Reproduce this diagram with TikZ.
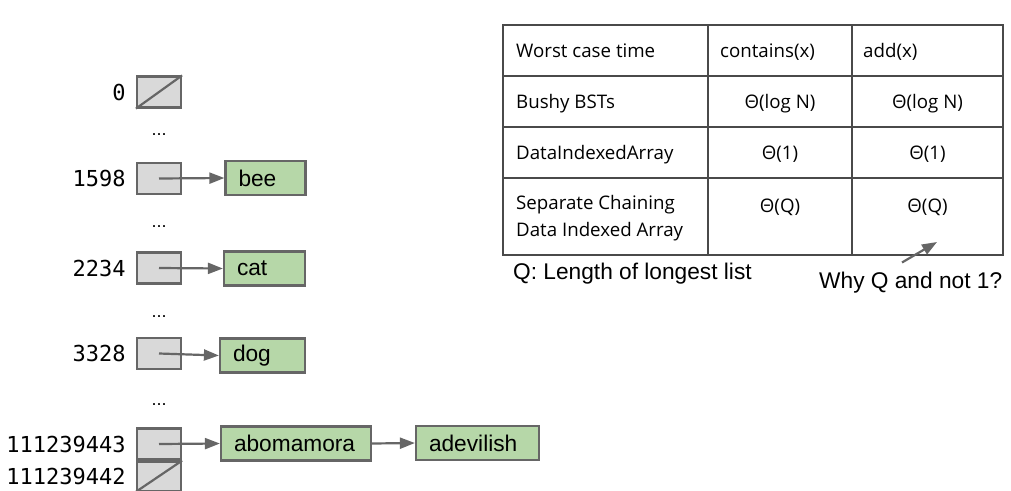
\documentclass[tikz,border=0pt]{standalone}
\usepackage{fontspec}
\setmainfont{Open Sans}
\newfontfamily\arialfont{Liberation Sans}
\newfontfamily\codefont{DejaVu Sans Mono}
\usetikzlibrary{arrows.meta,positioning}
\definecolor{slotgray}{HTML}{D9D9D9}
\definecolor{itemgreen}{HTML}{B6D7A8}
\definecolor{edgegray}{HTML}{666666}
\definecolor{gridgray}{HTML}{4A4A4A}

\begin{document}
\begin{tikzpicture}[x=1pt,y=-1pt,
  slot/.style={draw=edgegray,fill=slotgray,line width=2.2pt,minimum width=44pt,minimum height=31pt,inner sep=0pt},
  item/.style={draw=edgegray,fill=itemgreen,line width=2.2pt,minimum height=34pt,inner ysep=0pt,inner xsep=13pt,
    align=left,font=\arialfont\fontsize{22.7}{26}\selectfont},
  idx/.style={font=\codefont\fontsize{22}{26}\selectfont,inner sep=0pt},
  gap/.style={font=\arialfont\fontsize{18}{20}\selectfont,inner sep=0pt,anchor=base},
  link/.style={draw=edgegray,line width=2.2pt,-{Triangle[length=15pt,width=11pt]}},
  cell/.style={font=\fontsize{18.7}{27}\selectfont,inner sep=0pt},
  note/.style={font=\arialfont\fontsize{22.7}{26}\selectfont,inner sep=0pt,anchor=base west}]
  \useasboundingbox (0,0) rectangle (1011,490);
  \node[slot] (s0) at (159,92) {};
  \node[slot] (s1598) at (159,178.5) {};
  \node[slot] (s2234) at (159,268) {};
  \node[slot] (s3328) at (159,353.5) {};
  \node[slot] (s43) at (159,444) {};
  \node[slot,minimum height=29pt,below=0pt of s43] (s42) {};
  \draw[draw=edgegray,line width=2.2pt] (s0.south west) -- (s0.north east);
  \draw[draw=edgegray,line width=2.2pt] (s42.south west) -- (s42.north east);
  \node[idx,left=10pt of s0] (i0) {0};
  \node[idx,left=10pt of s1598] (i1598) {1598};
  \node[idx,left=10pt of s2234] (i2234) {2234};
  \node[idx,left=10pt of s3328] (i3328) {3328};
  \node[idx,left=10pt of s43] (i43) {111239443};
  \node[idx,left=10pt of s42] (i42) {111239442};
  \node[gap] (d1) at (159,135.5) {...};
  \node[gap] (d2) at (159,227) {...};
  \node[gap] (d3) at (159,317) {...};
  \node[gap] (d4) at (159,405) {...};
  \node[item,text width=54pt] (bee) at (265.5,178) {bee};
  \node[item,text width=55pt] (cat) at (264.5,268.5) {cat};
  \node[item,text width=59pt] (dog) at (262.5,355.5) {dog};
  \node[item,text width=124pt] (abo) at (296,443.5) {abomamora};
  \node[item,text width=97pt] (adev) at (477.5,443) {adevilish};
  \draw[link] (s1598.center) -- (bee.west);
  \draw[link] (s2234.center) -- (cat.west);
  \draw[link] (s3328.center) -- (dog.west);
  \draw[link] (s43.center) -- (abo.west);
  \draw[link] (abo.east) -- (adev.west);
  \draw[gridgray,line width=1.4pt] (503,25) rectangle (1003,255)
    (708,25) -- (708,255) (852,25) -- (852,255)
    (503,76) -- (1003,76) (503,127) -- (1003,127) (503,178) -- (1003,178);
  \node[cell,anchor=base west] (h1) at (516,57) {Worst case time};
  \node[cell,anchor=base west] (h2) at (720,57) {contains(x)};
  \node[cell,anchor=base west] (h3) at (863,57) {add(x)};
  \node[cell,anchor=base west] (r1) at (516,108) {Bushy BSTs};
  \node[cell,anchor=base] (r1a) at (780,108) {Θ(log N)};
  \node[cell,anchor=base] (r1b) at (927.5,108) {Θ(log N)};
  \node[cell,anchor=base west] (r2) at (516,159) {DataIndexedArray};
  \node[cell,anchor=base] (r2a) at (780,159) {Θ(1)};
  \node[cell,anchor=base] (r2b) at (927.5,159) {Θ(1)};
  \node[cell,anchor=west,align=left] (r3) at (516,218.5) {Separate Chaining\\Data Indexed Array};
  \node[cell,anchor=base] (r3a) at (780,212) {Θ(Q)};
  \node[cell,anchor=base] (r3b) at (927.5,212) {Θ(Q)};
  \node[note] (qnote) at (513,279) {Q: Length of longest list};
  \node[note] (why) at (819,288) {Why Q and not 1?};
  \coordinate (whytail) at (902,262.5);
  \coordinate (whytip) at (937,242);
  \draw[link] (whytail) -- (whytip);
\end{tikzpicture}
\end{document}
